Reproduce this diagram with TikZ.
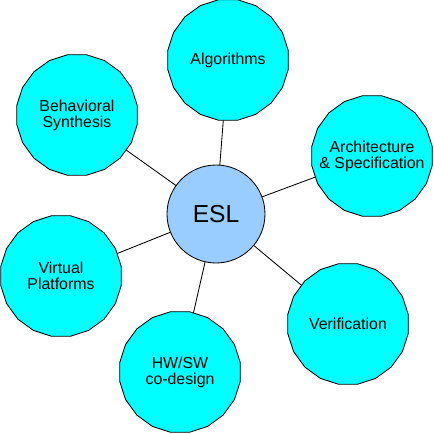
\documentclass[tikz,border=0pt]{standalone}
\usepackage{fontspec}
\setmainfont{Liberation Sans}
\usepackage{tikz}
\usepackage{tikz-network}
\usetikzlibrary{shapes.geometric}
\definecolor{eslblue}{HTML}{99CCFF}
\definecolor{topiccyan}{HTML}{00FFFF}
\SetVertexStyle[LineWidth=0.6pt,LineColor=black,TextColor=black]
\SetEdgeStyle[LineWidth=0.6pt,Color=black]

\begin{document}
\begin{tikzpicture}
		\useasboundingbox (0,0) rectangle (10.85,10.85);
		\Vertex[x=5.4,y=5.5,size=2.45,color=eslblue,label=ESL,fontsize={\fontsize{17.5}{20}\selectfont}]{esl}
		\Vertex[x=5.7,y=9.35,size=3.05,color=topiccyan,shape=regular polygon,style={regular polygon sides=20},label=Algorithms,fontsize={\fontsize{11.3}{12.6}\selectfont}]{alg}
		\Vertex[x=1.925,y=7.975,size=3.05,color=topiccyan,shape=regular polygon,style={regular polygon sides=20},label={\shortstack{Behavioral\\Synthesis}},fontsize={\fontsize{11.3}{12.6}\selectfont}]{behav}
		\Vertex[x=9.3,y=6.95,size=3.05,color=topiccyan,shape=regular polygon,style={regular polygon sides=20},label={\shortstack{Architecture\\\& Specification}},fontsize={\fontsize{11.3}{12.6}\selectfont}]{arch}
		\Vertex[x=1.525,y=3.95,size=3.05,color=topiccyan,shape=regular polygon,style={regular polygon sides=20},label={\shortstack{Virtual\\Platforms}},fontsize={\fontsize{11.3}{12.6}\selectfont}]{virt}
		\Vertex[x=4.5,y=1.55,size=3.05,color=topiccyan,shape=regular polygon,style={regular polygon sides=20},label={\shortstack{HW/SW\\co-design}},fontsize={\fontsize{11.3}{12.6}\selectfont}]{hwsw}
		\Vertex[x=8.7,y=2.75,size=3.05,color=topiccyan,shape=regular polygon,style={regular polygon sides=20},label=Verification,fontsize={\fontsize{11.3}{12.6}\selectfont}]{verif}
		\Edge(esl)(alg)
		\Edge(esl)(behav)
		\Edge(esl)(arch)
		\Edge(esl)(virt)
		\Edge(esl)(hwsw)
		\Edge(esl)(verif)
	\end{tikzpicture}
\end{document}
